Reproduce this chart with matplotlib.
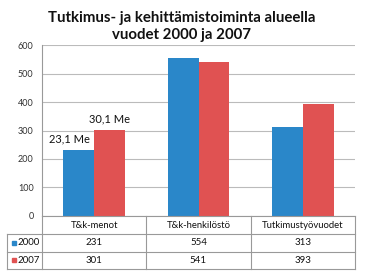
import matplotlib.pyplot as plt
import matplotlib.transforms as mtransforms
import numpy as np

categories = ['T&k-menot', 'T&k-henkilöstö', 'Tutkimustyövuodet']
years = ['2000', '2007']
values_2000 = [231, 554, 313]
values_2007 = [301, 541, 393]
labels_2000 = ['23,1 Me', '', '']
labels_2007 = ['30,1 Me', '', '']
title = 'Tutkimus- ja kehittämistoiminta alueella\nvuodet 2000 ja 2007'

colors = ['#2A87C9', '#E05252']
W, H = 365, 274

plt.rcParams['font.family'] = ['Lato', 'DejaVu Sans']

fig = plt.figure(figsize=(W / 100, H / 100), dpi=100)
ax = fig.add_axes([42 / W, 1 - 215.7 / H, (355 - 42) / W, (215.7 - 45.3) / H])

x = np.arange(len(categories))
bw = 0.295
ax.bar(x - bw / 2, values_2000, bw, color=colors[0], zorder=3)
ax.bar(x + bw / 2, values_2007, bw, color=colors[1], zorder=3)

# value labels sit above the bars; the 2000 label is pushed left so it clears the red bar
for i in range(len(categories)):
    if labels_2000[i]:
        ax.text(x[i] - 0.045, values_2000[i] + 20, labels_2000[i], ha='right', va='bottom',
                fontsize=8, color='#111111')
    if labels_2007[i]:
        ax.text(x[i] + bw / 2, values_2007[i] + 20, labels_2007[i], ha='center', va='bottom',
                fontsize=8, color='#111111')

ax.set_xlim(-0.5, len(categories) - 0.5)
ax.set_ylim(0, 600)
ax.set_yticks(range(0, 601, 100))
ax.set_xticks([])
ax.tick_params(axis='y', length=0, labelsize=6.5, labelcolor='#333333', pad=6)
ax.yaxis.grid(True, color='#BBBBBB', linewidth=0.8, zorder=0)
for side in ['top', 'right', 'bottom']:
    ax.spines[side].set_visible(False)
ax.spines['left'].set_color('#999999')
ax.spines['left'].set_linewidth(0.8)

fig.text(182 / W, 1 - 26.5 / H, title, ha='center', va='center', fontsize=10.8,
         fontweight='bold', linespacing=1.2, color='#111111')

# data table under the chart
line_kw = dict(color='#999999', linewidth=0.8)
row_y = [215.7, 234, 251.5, 268.7]
col_x = [42, 146.3, 250.7, 355]
def fx(px):
    return px / W
def fy(py):
    return 1 - py / H

for i, ry in enumerate(row_y):
    left = 42 if i == 0 else 7
    fig.add_artist(plt.Line2D([fx(left), fx(355)], [fy(ry), fy(ry)], **line_kw))
fig.add_artist(plt.Line2D([fx(7), fx(7)], [fy(234), fy(268.7)], **line_kw))
for cx in col_x:
    fig.add_artist(plt.Line2D([fx(cx), fx(cx)], [fy(215.7), fy(268.7)], **line_kw))

trans = mtransforms.blended_transform_factory(ax.transData, fig.transFigure)
for i, c in enumerate(categories):
    fig.text(x[i], fy(225), c, transform=trans, ha='center', va='center',
             fontsize=6.8, color='#111111')
for r, (yr, vals) in enumerate(zip(years, [values_2000, values_2007])):
    yy = fy(242.8 + r * 17.4)
    fig.add_artist(plt.Rectangle((fx(11.5), yy - 2.2 / H), 4.5 / W, 4.5 / H,
                                 color=colors[r], transform=fig.transFigure))
    fig.text(fx(17), yy, yr, ha='left', va='center', fontsize=7, color='#111111')
    for i, v in enumerate(vals):
        fig.text(x[i], yy, str(v), transform=trans, ha='center', va='center',
                 fontsize=7, color='#111111')

fig.savefig('out.png', dpi=100)
